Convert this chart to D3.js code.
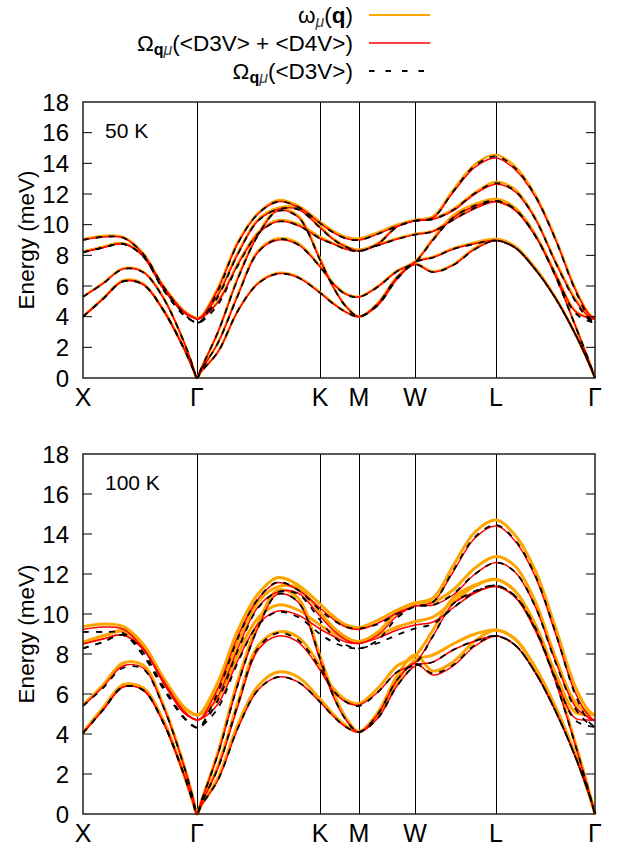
<!DOCTYPE html>
<html>
<head>
<meta charset="utf-8">
<script src="https://cdn.jsdelivr.net/npm/d3@7"></script>
<style>
  body { margin: 0; background: #fff; }
  text { font-family: "Liberation Sans", Arial, sans-serif; fill: #000; }
</style>
</head>
<body>
<script>
// path coordinate along X-Γ-K-M-W-L-Γ (arbitrary units)
var qPath = [0, 20, 40, 60, 80, 100, 110, 114, 118, 135, 155, 175, 195, 215, 237,
             250, 263, 276, 295, 314, 332, 350, 370, 392, 413, 432, 452, 472, 492, 506, 512];
var symLabels = ["X", "Γ", "K", "M", "W", "L", "Γ"];
var symPos = [0, 114, 237, 276, 332, 413, 512];
var yTicks = [0, 2, 4, 6, 8, 10, 12, 14, 16, 18];

// 50 K : omega_mu(q)
var w50 = [
  [9.05, 9.27, 9.2, 8.15, 6.05, 4.45, 4.0, 3.9, 4.0, 5.9, 8.9, 10.75, 11.6, 11.25, 10.2, 9.6, 9.2, 9.1, 9.5, 10.0, 10.3, 10.55, 12.25, 13.95, 14.55, 13.8, 12.0, 9.2, 5.9, 4.2, 3.9],
  [8.24, 8.55, 8.8, 8.0, 5.9, 4.35, 4.0, 3.9, 4.0, 5.5, 8.2, 10.35, 11.1, 11.1, 9.9, 9.1, 8.6, 8.35, 8.8, 9.9, 10.3, 10.4, 11.0, 12.1, 12.78, 12.3, 10.5, 7.7, 5.2, 4.05, 3.9],
  [5.3, 6.2, 7.15, 6.95, 5.3, 2.5, 0.75, 0, 0.6, 3.0, 6.6, 9.4, 11.0, 10.6, 7.8, 6.0, 4.7, 4.0, 4.9, 6.6, 7.45, 6.95, 7.4, 8.5, 9.07, 8.6, 7.2, 5.3, 2.9, 0.95, 0],
  [8.24, 8.55, 8.8, 8.0, 5.9, 4.35, 4.0, 3.9, 3.95, 5.0, 7.5, 9.5, 10.3, 10.05, 9.2, 8.8, 8.45, 8.35, 8.7, 9.1, 9.4, 9.6, 10.4, 11.2, 11.67, 11.1, 9.4, 6.9, 4.4, 3.95, 3.9],
  [4.0, 5.2, 6.35, 6.15, 4.5, 2.05, 0.6, 0, 0.5, 2.3, 5.5, 8.3, 9.1, 8.8, 7.3, 6.2, 5.5, 5.3, 6.0, 7.0, 7.6, 9.1, 10.6, 11.35, 11.67, 11.1, 9.4, 6.8, 3.5, 1.1, 0],
  [4.0, 5.2, 6.35, 6.15, 4.5, 2.05, 0.6, 0, 0.4, 1.7, 4.4, 6.2, 6.85, 6.6, 5.6, 4.9, 4.3, 4.0, 4.8, 6.5, 7.6, 7.9, 8.45, 8.85, 9.07, 8.6, 7.2, 5.3, 2.9, 0.95, 0]
];
// 50 K : Omega(<D3V> + <D4V>)
var dd50 = [
  [9.0, 9.2, 9.15, 8.1, 6.0, 4.4, 3.95, 3.85, 3.95, 5.8, 8.8, 10.7, 11.5, 11.15, 10.1, 9.5, 9.1, 9.0, 9.4, 9.9, 10.25, 10.45, 12.1, 13.75, 14.35, 13.6, 11.85, 9.1, 5.8, 4.15, 3.85],
  [8.2, 8.5, 8.75, 7.95, 5.85, 4.3, 3.95, 3.85, 3.95, 5.4, 8.1, 10.25, 11.0, 11.0, 9.8, 9.05, 8.55, 8.3, 8.75, 9.85, 10.25, 10.35, 10.9, 12.0, 12.63, 12.15, 10.4, 7.6, 5.1, 4.0, 3.85],
  [5.3, 6.15, 7.1, 6.9, 5.25, 2.5, 0.75, 0, 0.6, 3.0, 6.5, 9.3, 10.9, 10.5, 7.7, 5.95, 4.65, 4.0, 4.85, 6.55, 7.4, 6.9, 7.35, 8.4, 8.96, 8.5, 7.1, 5.25, 2.9, 0.95, 0],
  [8.2, 8.5, 8.75, 7.95, 5.85, 4.3, 3.95, 3.85, 3.9, 4.95, 7.4, 9.4, 10.2, 9.95, 9.1, 8.75, 8.4, 8.3, 8.65, 9.05, 9.35, 9.55, 10.3, 11.05, 11.5, 10.95, 9.3, 6.8, 4.35, 3.9, 3.85],
  [4.0, 5.15, 6.3, 6.1, 4.45, 2.05, 0.6, 0, 0.5, 2.3, 5.4, 8.2, 9.0, 8.7, 7.25, 6.15, 5.45, 5.28, 5.95, 6.95, 7.55, 9.0, 10.45, 11.2, 11.5, 10.95, 9.3, 6.7, 3.45, 1.1, 0],
  [4.0, 5.15, 6.3, 6.1, 4.45, 2.05, 0.6, 0, 0.4, 1.7, 4.4, 6.15, 6.8, 6.55, 5.55, 4.85, 4.3, 4.0, 4.75, 6.45, 7.55, 7.85, 8.4, 8.75, 8.96, 8.5, 7.1, 5.25, 2.9, 0.95, 0]
];
// 50 K : Omega(<D3V>)
var d3v50 = [
  [9.0, 9.2, 9.15, 8.1, 6.0, 4.25, 3.7, 3.6, 3.7, 5.7, 8.8, 10.7, 11.5, 11.15, 10.1, 9.5, 9.1, 9.0, 9.4, 9.9, 10.25, 10.45, 12.15, 13.85, 14.45, 13.7, 11.9, 9.1, 5.75, 3.95, 3.6],
  [8.2, 8.5, 8.75, 7.95, 5.8, 4.15, 3.7, 3.6, 3.7, 5.3, 8.1, 10.25, 11.0, 11.0, 9.8, 9.05, 8.55, 8.28, 8.75, 9.85, 10.25, 10.35, 10.95, 12.05, 12.7, 12.2, 10.4, 7.6, 5.05, 3.8, 3.6],
  [5.3, 6.15, 7.1, 6.9, 5.25, 2.5, 0.75, 0, 0.6, 3.0, 6.5, 9.3, 10.9, 10.5, 7.7, 5.95, 4.65, 4.0, 4.85, 6.55, 7.4, 6.9, 7.35, 8.4, 8.96, 8.5, 7.1, 5.25, 2.9, 0.95, 0],
  [8.2, 8.5, 8.75, 7.95, 5.8, 4.15, 3.7, 3.6, 3.65, 4.8, 7.35, 9.4, 10.2, 9.95, 9.1, 8.75, 8.4, 8.28, 8.65, 9.05, 9.35, 9.55, 10.3, 11.1, 11.55, 11.0, 9.3, 6.8, 4.25, 3.7, 3.6],
  [4.0, 5.15, 6.3, 6.1, 4.45, 2.05, 0.6, 0, 0.5, 2.3, 5.4, 8.2, 9.05, 8.7, 7.25, 6.15, 5.45, 5.28, 5.95, 6.95, 7.55, 9.0, 10.45, 11.25, 11.55, 11.0, 9.3, 6.7, 3.45, 1.1, 0],
  [4.0, 5.15, 6.3, 6.1, 4.45, 2.05, 0.6, 0, 0.4, 1.7, 4.4, 6.15, 6.8, 6.55, 5.55, 4.85, 4.3, 4.0, 4.75, 6.45, 7.55, 7.85, 8.4, 8.75, 8.96, 8.5, 7.1, 5.25, 2.9, 0.95, 0]
];

// 100 K : omega_mu(q)
var w100 = [
  [9.37, 9.5, 9.38, 8.5, 6.85, 5.4, 5.02, 4.95, 5.05, 6.6, 9.2, 11.0, 11.82, 11.45, 10.5, 9.9, 9.45, 9.33, 9.7, 10.2, 10.55, 10.8, 12.4, 14.1, 14.7, 13.95, 12.2, 9.4, 6.4, 5.15, 4.95],
  [8.58, 8.9, 9.15, 8.4, 6.8, 5.35, 5.0, 4.95, 5.05, 6.2, 8.6, 10.6, 11.37, 11.3, 10.1, 9.35, 8.85, 8.62, 9.1, 10.1, 10.55, 10.6, 11.2, 12.3, 12.87, 12.4, 10.65, 7.9, 5.6, 5.05, 4.95],
  [5.45, 6.45, 7.55, 7.45, 5.5, 2.6, 0.8, 0, 0.6, 3.1, 6.7, 9.5, 11.2, 10.8, 7.9, 6.1, 4.8, 4.12, 5.1, 6.9, 7.95, 7.15, 7.6, 8.65, 9.2, 8.75, 7.35, 5.4, 3.0, 1.0, 0],
  [8.58, 8.9, 9.15, 8.4, 6.8, 5.35, 5.0, 4.95, 5.0, 5.8, 8.0, 9.8, 10.45, 10.2, 9.45, 9.05, 8.75, 8.62, 8.95, 9.35, 9.62, 9.85, 10.6, 11.4, 11.73, 11.15, 9.5, 7.1, 5.1, 4.97, 4.95],
  [4.07, 5.3, 6.45, 6.3, 4.7, 2.1, 0.6, 0, 0.5, 2.4, 5.6, 8.4, 9.1, 8.85, 7.4, 6.3, 5.7, 5.53, 6.3, 7.4, 7.9, 9.2, 10.8, 11.45, 11.73, 11.15, 9.5, 6.9, 3.6, 1.15, 0],
  [4.07, 5.3, 6.45, 6.3, 4.7, 2.1, 0.6, 0, 0.4, 1.8, 4.5, 6.4, 7.1, 6.85, 5.75, 5.0, 4.4, 4.12, 4.9, 6.6, 7.7, 7.95, 8.5, 9.0, 9.2, 8.75, 7.35, 5.4, 3.0, 1.0, 0]
];
// 100 K : Omega(<D3V> + <D4V>)
var dd100 = [
  [9.23, 9.35, 9.25, 8.3, 6.7, 5.2, 4.78, 4.7, 4.78, 6.3, 8.9, 10.75, 11.57, 11.2, 10.3, 9.75, 9.35, 9.23, 9.55, 10.05, 10.4, 10.6, 12.1, 13.8, 14.4, 13.65, 11.9, 9.1, 6.1, 4.9, 4.67],
  [8.5, 8.75, 8.95, 8.25, 6.6, 5.1, 4.76, 4.7, 4.78, 5.9, 8.3, 10.35, 11.1, 11.05, 9.9, 9.2, 8.7, 8.53, 8.95, 9.9, 10.4, 10.45, 10.95, 12.0, 12.57, 12.1, 10.4, 7.7, 5.4, 4.8, 4.67],
  [5.4, 6.35, 7.4, 7.3, 5.4, 2.55, 0.8, 0, 0.6, 3.0, 6.5, 9.3, 11.0, 10.6, 7.7, 5.9, 4.7, 4.1, 5.0, 6.7, 7.55, 6.95, 7.4, 8.4, 8.9, 8.45, 7.1, 5.2, 2.9, 1.0, 0],
  [8.5, 8.75, 8.95, 8.25, 6.6, 5.1, 4.76, 4.7, 4.75, 5.5, 7.7, 9.5, 10.15, 9.95, 9.25, 8.9, 8.6, 8.53, 8.8, 9.2, 9.45, 9.6, 10.3, 11.05, 11.37, 10.85, 9.3, 6.85, 4.8, 4.7, 4.67],
  [4.05, 5.2, 6.35, 6.2, 4.6, 2.1, 0.6, 0, 0.5, 2.3, 5.4, 8.2, 8.9, 8.6, 7.2, 6.15, 5.6, 5.45, 6.1, 7.1, 7.55, 8.9, 10.5, 11.1, 11.37, 10.85, 9.2, 6.7, 3.5, 1.1, 0],
  [4.05, 5.2, 6.35, 6.2, 4.6, 2.1, 0.6, 0, 0.4, 1.7, 4.3, 6.2, 6.85, 6.6, 5.6, 4.9, 4.35, 4.1, 4.8, 6.4, 7.4, 7.6, 8.2, 8.65, 8.9, 8.45, 7.1, 5.2, 2.9, 1.0, 0]
];
// 100 K : Omega(<D3V>)
var d3v100 = [
  [9.1, 9.1, 9.05, 8.1, 6.4, 4.9, 4.42, 4.32, 4.42, 6.1, 8.8, 10.75, 11.6, 11.2, 10.2, 9.7, 9.35, 9.28, 9.5, 10.0, 10.37, 10.6, 12.15, 13.85, 14.45, 13.7, 11.95, 9.15, 6.0, 4.6, 4.35],
  [8.28, 8.6, 8.95, 7.95, 6.3, 4.85, 4.4, 4.32, 4.4, 5.7, 8.2, 10.3, 11.1, 11.0, 9.7, 8.9, 8.45, 8.28, 8.7, 9.8, 10.37, 10.45, 11.0, 12.0, 12.57, 12.1, 10.4, 7.65, 5.3, 4.5, 4.35],
  [5.4, 6.3, 7.3, 7.25, 5.4, 2.55, 0.8, 0, 0.6, 3.0, 6.5, 9.3, 11.0, 10.6, 7.8, 5.95, 4.7, 4.1, 5.0, 6.7, 7.5, 7.03, 7.45, 8.45, 8.9, 8.45, 7.1, 5.2, 2.9, 1.0, 0],
  [8.28, 8.6, 8.95, 7.95, 6.3, 4.85, 4.4, 4.32, 4.38, 5.3, 7.6, 9.45, 10.1, 9.85, 9.0, 8.6, 8.35, 8.28, 8.55, 8.95, 9.28, 9.5, 10.3, 11.1, 11.42, 10.9, 9.35, 6.85, 4.7, 4.4, 4.35],
  [4.05, 5.2, 6.35, 6.2, 4.6, 2.1, 0.6, 0, 0.5, 2.3, 5.5, 8.3, 9.05, 8.7, 7.3, 6.2, 5.6, 5.4, 6.1, 7.1, 7.5, 8.9, 10.5, 11.15, 11.42, 10.9, 9.25, 6.7, 3.5, 1.1, 0],
  [4.05, 5.2, 6.35, 6.2, 4.6, 2.1, 0.6, 0, 0.4, 1.7, 4.3, 6.2, 6.85, 6.6, 5.6, 4.9, 4.35, 4.1, 4.8, 6.4, 7.4, 7.6, 8.2, 8.65, 8.9, 8.45, 7.1, 5.2, 2.9, 1.0, 0]
];

var W = 618, H = 852;
var left = 83, right = 595;

var svg = d3.select("body").append("svg")
    .attr("width", W)
    .attr("height", H);

var x = d3.scaleLinear().domain([0, 512]).range([left, right]);

var styles = [
  { color: "#ffa500", width: 2.6, dash: null },
  { color: "#ff0000", width: 1.5, dash: null },
  { color: "#000000", width: 1.8, dash: "6,7" }
];

function drawPanel(top, bottom, label, series, orangeWidth) {
  var y = d3.scaleLinear().domain([0, 18]).range([bottom, top]);
  var g = svg.append("g");

  // vertical lines at high-symmetry points
  g.selectAll("line.sym")
    .data(symPos.slice(1, -1))
    .enter().append("line")
    .attr("x1", function(d) { return x(d) + 0.5; })
    .attr("x2", function(d) { return x(d) + 0.5; })
    .attr("y1", top).attr("y2", bottom)
    .attr("stroke", "#000").attr("stroke-width", 1);

  var line = d3.line()
    .x(function(d, i) { return x(qPath[i]); })
    .y(function(d) { return y(d); })
    .curve(d3.curveCatmullRom.alpha(0.5));

  series.forEach(function(bands, k) {
    var st = styles[k];
    g.selectAll(null)
      .data(bands)
      .enter().append("path")
      .attr("d", line)
      .attr("fill", "none")
      .attr("stroke", st.color)
      .attr("stroke-width", k == 0 ? orangeWidth : st.width)
      .attr("stroke-dasharray", st.dash);
  });

  // frame
  g.append("rect")
    .attr("x", left).attr("y", top)
    .attr("width", right - left).attr("height", bottom - top)
    .attr("fill", "none").attr("stroke", "#222").attr("stroke-width", 1.5);

  // y ticks, both sides, inward
  var ticks = yTicks.slice(1, -1);
  g.selectAll("line.tl").data(ticks).enter().append("line")
    .attr("x1", left).attr("x2", left + 9)
    .attr("y1", function(d) { return y(d); }).attr("y2", function(d) { return y(d); })
    .attr("stroke", "#000");
  g.selectAll("line.tr").data(ticks).enter().append("line")
    .attr("x1", right - 9).attr("x2", right)
    .attr("y1", function(d) { return y(d); }).attr("y2", function(d) { return y(d); })
    .attr("stroke", "#000");

  g.selectAll("text.yt").data(yTicks).enter().append("text")
    .attr("x", left - 14)
    .attr("y", function(d) { return y(d) + 8.5; })
    .attr("text-anchor", "end")
    .attr("font-size", 24)
    .text(function(d) { return d; });

  g.selectAll("text.xt").data(symPos).enter().append("text")
    .attr("x", function(d) { return x(d); })
    .attr("y", bottom + 28)
    .attr("text-anchor", "middle")
    .attr("font-size", 25)
    .text(function(d, i) { return symLabels[i]; });

  g.append("text")
    .attr("transform", "translate(34," + ((top + bottom) / 2) + ") rotate(-90)")
    .attr("text-anchor", "middle")
    .attr("font-size", 22.5)
    .text("Energy (meV)");

  g.append("text")
    .attr("x", 105).attr("y", top + 36)
    .attr("font-size", 21)
    .text(label);
}

drawPanel(102, 378, "50 K", [w50, dd50, d3v50], 2.4);
drawPanel(454, 814, "100 K", [w100, dd100, d3v100], 3);

// legend
var leg = svg.append("g");
var rows = [15, 43, 71];
rows.forEach(function(ry, i) {
  var st = styles[i];
  leg.append("line")
    .attr("x1", 369).attr("x2", 430)
    .attr("y1", ry).attr("y2", ry)
    .attr("stroke", st.color)
    .attr("stroke-width", i == 0 ? 2 : st.width)
    .attr("stroke-dasharray", i == 2 ? "5.5,11" : null);
});

var legFs = 22.5, subFs = 16;
var t0 = leg.append("text").attr("x", 353).attr("y", 23).attr("text-anchor", "end").attr("font-size", legFs);
t0.append("tspan").text("ω");
t0.append("tspan").attr("font-size", subFs).attr("dy", 4).attr("font-style", "italic").attr("fill", "#444").text("μ");
t0.append("tspan").attr("dy", -4).text("(");
t0.append("tspan").attr("font-weight", "bold").text("q");
t0.append("tspan").text(")");

var t1 = leg.append("text").attr("x", 353).attr("y", 51).attr("text-anchor", "end").attr("font-size", legFs);
t1.append("tspan").text("Ω");
t1.append("tspan").attr("font-size", subFs).attr("dy", 4).attr("font-weight", "bold").text("q");
t1.append("tspan").attr("font-size", subFs).attr("font-style", "italic").attr("fill", "#444").text("μ");
t1.append("tspan").attr("dy", -4).text("(<D3V> + <D4V>)");

var t2 = leg.append("text").attr("x", 353).attr("y", 79).attr("text-anchor", "end").attr("font-size", legFs);
t2.append("tspan").text("Ω");
t2.append("tspan").attr("font-size", subFs).attr("dy", 4).attr("font-weight", "bold").text("q");
t2.append("tspan").attr("font-size", subFs).attr("font-style", "italic").attr("fill", "#444").text("μ");
t2.append("tspan").attr("dy", -4).text("(<D3V>)");
</script>
</body>
</html>
